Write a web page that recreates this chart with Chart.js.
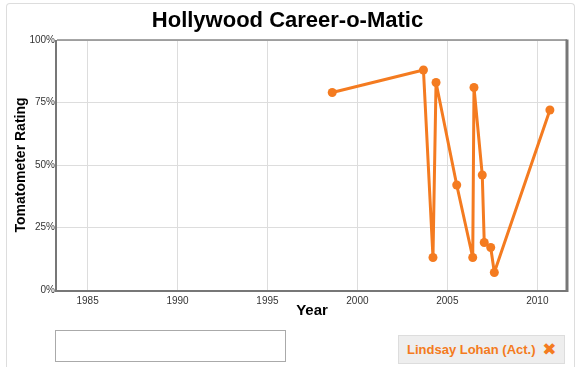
<!DOCTYPE html>
<html>
<head>
<meta charset="utf-8">
<script src="https://cdn.jsdelivr.net/npm/chart.js@4"></script>
<style>
  body { margin: 0; background: #fff; font-family: Arial, "Liberation Sans", sans-serif; }
  #wrap { position: relative; width: 583px; height: 387px; overflow: hidden; }
  #frame {
    position: absolute; left: 6px; top: 3px; width: 567px; height: 363px;
    border: 1px solid #ddd; border-bottom: none; border-radius: 4px 4px 0 0;
  }
  #chart { position: absolute; left: 0; top: 0; }
  #search {
    position: absolute; left: 55px; top: 330px; width: 231px; height: 32px;
    border: 1px solid #aaa; box-sizing: border-box; background: #fff;
  }
  #tag {
    position: absolute; left: 398px; top: 335px; width: 167px; height: 29px;
    box-sizing: border-box; background: #eee; border: 1px solid #ddd;
    color: #F47B20; font-weight: bold; font-size: 13px;
    line-height: 27px; padding-left: 8px; white-space: nowrap;
  }
  #tag .x { font-family: "DejaVu Sans", sans-serif; font-size: 17px; margin-left: 3px; vertical-align: -1px; }
</style>
</head>
<body>
<div id="wrap">
  <div id="frame"></div>
  <canvas id="chart" width="583" height="325"></canvas>
  <div id="search"></div>
  <div id="tag">Lindsay Lohan (Act.) <span class="x">✖</span></div>
</div>
<script>
// release dates as decimal years, tomatometer in %
const years   = [1998.6, 2003.67, 2004.2, 2004.37, 2005.52, 2006.41, 2006.48, 2006.94, 2007.05, 2007.41, 2007.61, 2010.7];
const ratings = [79, 88, 13, 83, 42, 13, 81, 46, 19, 17, 7, 72];
const yearTicks = [1985, 1990, 1995, 2000, 2005, 2010];
const pctTicks  = [0, 25, 50, 75, 100];

const orange = '#F47B20';

const plotBorder = {
  id: 'plotBorder',
  afterDatasetsDraw(chart) {
    const { ctx, chartArea: a } = chart;
    ctx.save();
    ctx.strokeStyle = '#888';
    ctx.lineWidth = 1.5;
    ctx.beginPath(); ctx.moveTo(a.left, a.top); ctx.lineTo(a.right, a.top); ctx.stroke();
    ctx.strokeStyle = '#777';
    ctx.lineWidth = 2;
    ctx.beginPath(); ctx.moveTo(a.left - 1, a.top); ctx.lineTo(a.left - 1, a.bottom + 1); ctx.lineTo(a.right, a.bottom + 1); ctx.stroke();
    ctx.lineWidth = 3;
    ctx.beginPath(); ctx.moveTo(a.right, a.top - 0.5); ctx.lineTo(a.right, a.bottom + 2); ctx.stroke();
    ctx.restore();
  }
};

new Chart(document.getElementById('chart'), {
  type: 'line',
  data: {
    datasets: [{
      data: years.map((x, i) => ({ x, y: ratings[i] })),
      borderColor: orange,
      backgroundColor: orange,
      borderWidth: 3,
      borderJoinStyle: 'round',
      borderCapStyle: 'round',
      pointRadius: 4.5,
      pointBorderWidth: 0,
      pointBackgroundColor: orange,
      tension: 0,
    }],
  },
  options: {
    responsive: false,
    animation: false,
    layout: { padding: { left: 8, right: 16, top: 0, bottom: 0 } },
    plugins: {
      legend: { display: false },
      tooltip: { enabled: false },
      title: {
        display: true,
        text: 'Hollywood Career-o-Matic',
        color: '#000',
        font: { family: 'Arial, "Liberation Sans", sans-serif', size: 22, weight: 'bold' },
        padding: { top: 8, bottom: 5.6 },
      },
    },
    scales: {
      x: {
        type: 'linear',
        min: 1983.3,
        max: 2011.65,
        afterFit: s => { s.height = 35; },
        afterBuildTicks: s => { s.ticks = yearTicks.map(v => ({ value: v })); },
        grid: { color: '#ddd', drawTicks: false },
        border: { display: false },
        ticks: {
          padding: 5,
          color: '#333',
          font: { family: 'Arial, "Liberation Sans", sans-serif', size: 10 },
          callback: v => String(v),
        },
        title: {
          display: true,
          text: 'Year',
          color: '#000',
          font: { family: 'Arial, "Liberation Sans", sans-serif', size: 15, weight: 'bold' },
          padding: { top: 0, bottom: 5.2 },
        },
      },
      y: {
        min: 0,
        max: 100,
        afterFit: s => { s.width = 49; },
        afterBuildTicks: s => { s.ticks = pctTicks.map(v => ({ value: v })); },
        grid: { color: '#ddd', drawTicks: false },
        border: { display: false },
        ticks: {
          padding: 2,
          color: '#333',
          font: { family: 'Arial, "Liberation Sans", sans-serif', size: 10 },
          callback: v => v + '%',
        },
        title: {
          display: true,
          text: 'Tomatometer Rating',
          color: '#000',
          font: { family: 'Arial, "Liberation Sans", sans-serif', size: 14, weight: 'bold' },
          padding: { top: 4.6, bottom: 0 },
        },
      },
    },
  },
  plugins: [plotBorder],
});
</script>
</body>
</html>
